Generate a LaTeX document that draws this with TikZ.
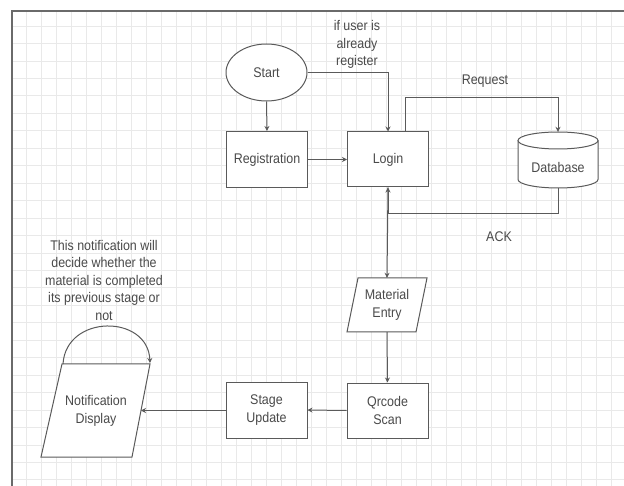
\documentclass[tikz,border=0pt]{standalone}
\usepackage{fontspec}
\setmainfont{Liberation Sans}[FakeStretch=0.89]
\usetikzlibrary{arrows.meta,calc,shapes.geometric}
\definecolor{ln}{HTML}{5A5A5A}
\definecolor{tx}{HTML}{4A4A4A}
\definecolor{gr}{HTML}{E9E9E9}
\definecolor{fr}{HTML}{6A6A6A}
\begin{document}
\begin{tikzpicture}[x=1pt,y=-1pt,
  lbl/.style={text=tx, font=\fontsize{14}{17.5}\selectfont, align=center, inner sep=0pt},
  box/.style={lbl, draw=ln, line width=1pt, fill=white, minimum width=81pt, minimum height=56pt},
  ghost/.style={lbl, minimum width=60pt, minimum height=#1},
  arr/.style={draw=ln, line width=1pt, -{Stealth[length=5pt,width=5pt]}},
  shp/.style={draw=ln, line width=1pt, fill=white},
  gridln/.style={draw=gr, line width=0.6pt}
]
\useasboundingbox (0,0) rectangle (624,486);
\fill[white] (0,0) rectangle (624,486);
% grid
\foreach \i in {1,...,41} \draw[gridln] ({11+15*\i},11) -- ({11+15*\i},486);
\foreach \j in {0,...,26} \draw[gridln] (12,{26+17.45*\j}) -- (624,{26+17.45*\j});
% frame
\draw[fr, line width=2.2pt] (12,486) -- (12,11) -- (624,11);

% nodes
\node[lbl, draw=ln, line width=1pt, fill=white, ellipse, minimum width=81pt, minimum height=57pt] (start) at (266.5,72.5) {Start};
\node[box] (reg) at (267,159.5) {Registration};
\node[box, minimum height=55pt] (login) at (388,159.5) {Login};

% database cylinder
\draw[shp] (518,140.5) -- (518,179.5) .. controls (518,184.2) and (535.9,188) .. (558,188) .. controls (580.1,188) and (598,184.2) .. (598,179.5) -- (598,140.5);
\draw[shp] (558,140.5) ellipse [x radius=40pt, y radius=8.5pt];
\node[ghost=56pt, minimum width=80pt] (db) at (558,160) {};
\node[lbl] (dbt) at (558,167) {Database};

% material entry parallelogram
\draw[shp] (358,278) -- (427,278) -- (416,332) -- (347,332) -- cycle;
\node[ghost=54pt] (mat) at (387,305) {Material\\Entry};

\node[box, minimum height=55pt] (qr) at (387.5,410.5) {Qrcode\\Scan};
\node[box] (stage) at (266.5,410) {Stage\\Update};

% notification display parallelogram
\coordinate (nTL) at (62,364);
\coordinate (nTR) at (150,364);
\coordinate (nBR) at (132,457);
\coordinate (nBL) at (41,457);
\coordinate (nR) at (141,410.5);
\draw[shp] (nTL) -- (nTR) -- (nBR) -- (nBL) -- cycle;
\node[ghost=93pt] (notif) at (96,411) {Notification\\Display};

% texts
\node[lbl] (ifreg) at (357,44.5) {if user is\\already\\register};
\node[lbl] (req) at (485,81) {Request};
\node[lbl] (ack) at (499,237) {ACK};
\node[lbl] (note) at (104,280) {This notification will\\decide whether the\\material is completed\\its previous stage or\\not};

% connectors
\draw[arr] (start.east) -| (login.north);
\draw[arr] (start.south) -- (reg.north);
\draw[arr] (reg.east) -- (login.west);
\draw[arr] ([xshift=17pt]login.north) |- ([yshift=34pt]db.north) -- (db.north);
\draw[arr] (db.south) -- ++(0,25) -| (login.south);
\draw[arr] (login.south) -- (mat.north);
\draw[arr] (mat.south) -- (qr.north);
\draw[arr] (qr.west) -- (stage.east);
\draw[arr] (stage.west |- nR) -- (nR);
\draw[arr] ([xshift=1pt]nTL) .. controls (66,314) and (148,314) .. ([yshift=1pt]nTR);
\end{tikzpicture}
\end{document}
